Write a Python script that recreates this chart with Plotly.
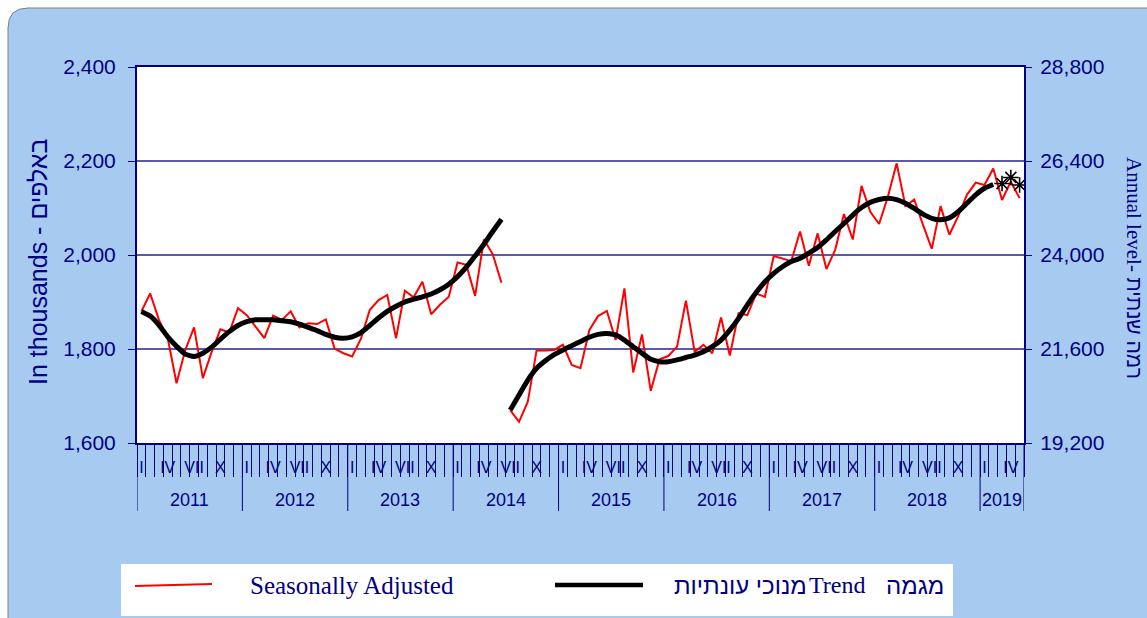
import plotly.graph_objects as go

# ---------------- data ----------------
years = [2011, 2012, 2013, 2014, 2015, 2016, 2017, 2018, 2019]
months = [f"{y}-{m:02d}" for y in years for m in range(1, 13)][:101]  # Jan 2011 .. May 2019
roman_months = {1: "I", 4: "IV", 7: "VII", 10: "X"}

# seasonally adjusted (thousands) – old series Jan 2011..Jun 2014
sa_old = [1880, 1918, 1862, 1823, 1727, 1798, 1846, 1738, 1794, 1842, 1835, 1887,
          1872, 1848, 1823, 1871, 1862, 1880, 1846, 1855, 1853, 1863, 1801, 1791,
          1784, 1822, 1883, 1904, 1915, 1823, 1924, 1910, 1943, 1874, 1894, 1911,
          1984, 1979, 1913, 2033, 2002, 1941]
# new series Jul 2014..May 2019
sa_new = [1670, 1645, 1688, 1797, 1797, 1798,
          1809, 1766, 1759, 1840, 1870, 1881, 1819, 1929, 1750, 1831, 1711, 1778,
          1785, 1805, 1903, 1794, 1809, 1791, 1867, 1786, 1876, 1872, 1918, 1911,
          1998, 1993, 1987, 2050, 1977, 2046, 1970, 2011, 2087, 2033, 2147, 2092,
          2066, 2124, 2195, 2104, 2118, 2064, 2013, 2104, 2043, 2082, 2128, 2154,
          2149, 2184, 2117, 2156, 2121]
trend_old = [1880, 1870, 1851, 1826, 1806, 1789, 1784, 1791, 1804, 1821, 1837, 1850,
             1858, 1862, 1862, 1862, 1860, 1858, 1853, 1846, 1839, 1831, 1825, 1823,
             1826, 1835, 1850, 1866, 1880, 1891, 1900, 1906, 1911, 1917, 1926, 1938,
             1954, 1974, 1998, 2023, 2050, 2076]
trend_new = [1670, 1702, 1734, 1759, 1775, 1788,
             1798, 1807, 1816, 1825, 1831, 1833, 1830, 1819, 1805, 1791, 1778, 1773,
             1773, 1777, 1782, 1787, 1794, 1805, 1819, 1840, 1865, 1894, 1920, 1943,
             1961, 1975, 1986, 1993, 2004, 2016, 2032, 2050, 2067, 2085, 2101, 2112,
             2118, 2121, 2118, 2110, 2099, 2087, 2078, 2075, 2079, 2092, 2110, 2128,
             2142, 2150]
trend_est_months = ["2019-03", "2019-04", "2019-05"]
trend_est = [2152, 2165, 2149]

left_ticks = [1600, 1800, 2000, 2200, 2400]
right_ticks = [19200, 21600, 24000, 26400, 28800]

# ---------------- helpers ----------------
idx = {m: i for i, m in enumerate(months)}
split = idx["2014-07"]
x_old = list(range(0, split))
x_new = list(range(split, len(months)))
x_est = [idx[m] for m in trend_est_months]

NAVY = "#000080"
BLUE_BG = "#A6CAF0"
L, R, T, B = 137, 123, 67, 175
W, H = 1147, 618
PW, PH = W - L - R, H - T - B


def px(xp):
    return (xp - L) / PW


def py(yp):
    return (H - B - yp) / PH


fig = go.Figure()
red = dict(color="#FF0000", width=2)
blk = dict(color="#000000", width=5, shape="spline", smoothing=0.6)
fig.add_trace(go.Scatter(x=x_old, y=sa_old, mode="lines", line=red, showlegend=False))
fig.add_trace(go.Scatter(x=x_new, y=sa_new, mode="lines", line=red, showlegend=False))
fig.add_trace(go.Scatter(x=x_old, y=trend_old, mode="lines", line=blk, showlegend=False))
fig.add_trace(go.Scatter(x=x_new, y=trend_new, mode="lines", line=blk, showlegend=False))
fig.add_trace(go.Scatter(x=x_est, y=trend_est, mode="markers", showlegend=False,
                         marker=dict(symbol="asterisk-open", size=13, color="black",
                                     line=dict(color="black", width=1.6))))
# empty trace so that the annual-level (right) axis is drawn
fig.add_trace(go.Scatter(x=[None], y=[None], yaxis="y2", mode="lines",
                         showlegend=False, hoverinfo="skip"))

tickvals = [i for i, m in enumerate(months) if int(m[5:]) in roman_months]
ticktext = [roman_months[int(months[i][5:])] for i in tickvals]

shapes = []
# outer rounded panel
x0, y0, x1, y1 = px(8), py(8), px(1170), py(640)
cx, cy = px(28), py(28)
shapes.append(dict(type="path", xref="paper", yref="paper", layer="below",
                   path=f"M {x0},{y1} L {x0},{cy} Q {x0},{y0} {cx},{y0} L {x1},{y0} L {x1},{y1} Z",
                   fillcolor=BLUE_BG, line=dict(color="#7f7f7f", width=1)))
# white plot area
shapes.append(dict(type="rect", xref="paper", yref="paper", layer="below",
                   x0=0, x1=1, y0=0, y1=1, fillcolor="white", line=dict(width=0)))
# year separators
year_starts = [idx[f"{y}-01"] for y in years] + [len(months)]
for ys in year_starts:
    shapes.append(dict(type="line", xref="x", yref="paper", x0=ys - 0.5, x1=ys - 0.5,
                       y0=0, y1=py(511), line=dict(color=NAVY, width=1)))
# legend box
shapes.append(dict(type="rect", xref="paper", yref="paper", x0=px(121), x1=px(953),
                   y0=py(564), y1=py(616), fillcolor="white", line=dict(width=0)))
shapes.append(dict(type="line", xref="paper", yref="paper", x0=px(135), x1=px(212),
                   y0=py(586), y1=py(584), line=dict(color="#FF0000", width=2)))
shapes.append(dict(type="line", xref="paper", yref="paper", x0=px(555), x1=px(643),
                   y0=py(585), y1=py(585), line=dict(color="#000000", width=4.5)))

annotations = []
for k, y in enumerate(years):
    a, b = year_starts[k], year_starts[k + 1]
    annotations.append(dict(x=(a + b - 1) / 2, y=py(500), xref="x", yref="paper",
                            text=str(y), showarrow=False, yanchor="middle",
                            font=dict(family="Liberation Sans", size=18, color=NAVY)))
annotations += [
    dict(x=px(248), y=py(585), xref="paper", yref="paper", xanchor="left", yanchor="middle",
         text="Seasonally Adjusted", showarrow=False,
         font=dict(family="Liberation Serif", size=25, color=NAVY)),
    dict(x=px(809), y=py(585), xref="paper", yref="paper", xanchor="right", yanchor="middle",
         text="מנוכי עונתיות", showarrow=False,
         font=dict(family="Liberation Sans", size=24, color=NAVY)),
    dict(x=px(807), y=py(585), xref="paper", yref="paper", xanchor="left", yanchor="middle",
         text="Trend", showarrow=False,
         font=dict(family="Liberation Serif", size=24, color=NAVY)),
    dict(x=px(884), y=py(585), xref="paper", yref="paper", xanchor="left", yanchor="middle",
         text="מגמה", showarrow=False,
         font=dict(family="Liberation Sans", size=24, color=NAVY)),
    dict(x=px(38), y=py(262), xref="paper", yref="paper", xanchor="center", yanchor="middle",
         text="In thousands - באלפים", textangle=-90, showarrow=False,
         font=dict(family="Liberation Sans", size=25, color=NAVY)),
    dict(x=px(1134), y=py(268), xref="paper", yref="paper", xanchor="center", yanchor="middle",
         text='<span style="font-family:Liberation Serif">Annual level- </span>'
              '<span style="font-family:Liberation Sans">רמה שנתית</span>',
         textangle=90, showarrow=False,
         font=dict(family="Liberation Serif", size=21, color=NAVY)),
]

fig.update_layout(
    width=W, height=H,
    margin=dict(l=L, r=R, t=T, b=B),
    paper_bgcolor="white", plot_bgcolor="rgba(0,0,0,0)",
    shapes=shapes, annotations=annotations,
    xaxis=dict(range=[-0.5, len(months) - 0.5], tickmode="array", tickvals=tickvals,
               ticktext=ticktext, ticks="outside", ticklen=9, tickcolor="rgba(0,0,0,0)",
               showgrid=False, zeroline=False, showline=True, linecolor=NAVY, linewidth=2,
               mirror=True, tickfont=dict(family="Liberation Sans", size=16, color=NAVY),
               minor=dict(tickmode="linear", tick0=-0.5, dtick=1, ticks="outside",
                          ticklen=32, tickcolor=NAVY, tickwidth=1, showgrid=False)),
    yaxis=dict(range=[1600, 2400], tickvals=left_ticks,
               ticktext=[f"{v:,}" for v in left_ticks], ticks="outside", ticklen=7,
               tickcolor=NAVY, tickwidth=1, showgrid=True, gridcolor="#5a5aa8", gridwidth=1.5,
               zeroline=False, showline=True, linecolor=NAVY, linewidth=2, mirror=True,
               ticklabelstandoff=8,
               tickfont=dict(family="Liberation Sans", size=21, color=NAVY)),
    yaxis2=dict(range=[19200, 28800], overlaying="y", side="right", anchor="x",
                tickvals=right_ticks, ticktext=[f"{v:,}" for v in right_ticks],
                ticks="outside", ticklen=7, tickcolor=NAVY, showgrid=False, zeroline=False,
                showline=False, ticklabelstandoff=4,
                tickfont=dict(family="Liberation Sans", size=21, color=NAVY)),
)

fig.write_html("out.html", config={"displayModeBar": False},
               post_script="document.body.style.margin='0';"
                           "document.body.style.overflow='hidden';")
